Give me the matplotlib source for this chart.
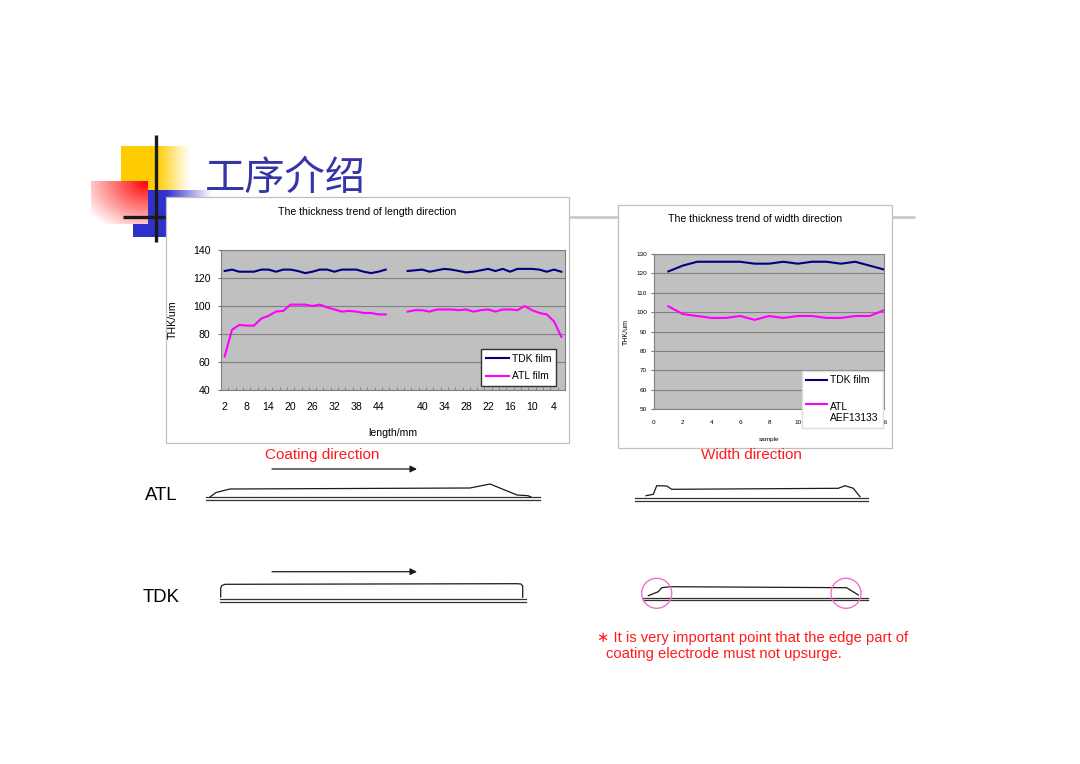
import numpy as np
import matplotlib
matplotlib.use('Agg')
import matplotlib.pyplot as plt
from matplotlib.patches import Rectangle, Circle
from matplotlib.legend_handler import HandlerLine2D

plt.rcParams['font.family'] = ['Liberation Sans', 'DejaVu Sans']

# thickness along the length direction (two blank categories split the runs)
len_labels = ['2', '4', '6', '8', '10', '12', '14', '16', '18', '20', '22', '24',
              '26', '28', '30', '32', '34', '36', '38', '40', '42', '44', '46',
              '', '',
              '44', '42', '40', '38', '36', '34', '32', '30', '28', '26', '24',
              '22', '20', '18', '16', '14', '12', '10', '8', '6', '4', '2']
tdk_len = [125, 126, 124.5, 124.5, 124.5, 126, 126, 124.5, 126, 126, 125, 123.5,
           124.5, 126, 126, 124.5, 126, 126, 126, 124.5, 123.5, 124.5, 126,
           None, None,
           125, 125.5, 126, 124.5, 125.5, 126.5, 126, 125, 124, 124.5, 125.5,
           126.5, 125, 126.5, 124.5, 126.5, 126.5, 126.5, 126, 124.5, 126, 124.5]
atl_len = [64, 83, 86.5, 86, 86, 91, 93, 96, 96.5, 101, 101, 101,
           100, 101, 99, 97.5, 96, 96.5, 96, 95, 95, 94, 94,
           None, None,
           96, 97, 97, 96, 97.5, 97.5, 97.5, 97, 97.5, 96, 97,
           97.5, 96, 97.5, 97.5, 97, 100, 97, 95, 94, 89, 78]

# thickness along the width direction
samples = [1, 2, 3, 4, 5, 6, 7, 8, 9, 10, 11, 12, 13, 14, 15, 16]
tdk_wid = [121, 124, 126, 126, 126, 126, 125, 125, 126, 125, 126, 126, 125, 126, 124, 122]
atl_wid = [103, 99, 98, 97, 97, 98, 96, 98, 97, 98, 98, 97, 97, 98, 98, 101]
wid_ticks = [0, 2, 4, 6, 8, 10, 12, 14, 16]
wid_ticklabels = ['0', '2', '4', '6', '8', '10', '', '', '16']  # 12, 14 sit under the legend

W, H = 1080, 764
fig = plt.figure(figsize=(W / 100, H / 100), dpi=100)
fig.patch.set_facecolor('white')

bg = fig.add_axes([0, 0, 1, 1])
bg.set_axis_off()
bg.set_zorder(0)


def px_axes(x0, y0, x1, y1):
    return fig.add_axes([x0 / W, 1 - y1 / H, (x1 - x0) / W, (y1 - y0) / H])


def grad(x0, y0, x1, y1, rgb, alpha_fn, z):
    n = 80
    u = np.linspace(0, 1, n)[None, :] * np.ones((n, 1))
    v = np.linspace(0, 1, n)[:, None] * np.ones((1, n))
    a = np.clip(alpha_fn(u, v), 0, 1)
    img = np.ones((n, n, 3))
    for k in range(3):
        img[..., k] = 1 - a * (1 - rgb[k])
    bg.imshow(img, extent=(x0, x1, y1, y0), origin='upper', aspect='auto',
              zorder=z, interpolation='bilinear')


class RaisedLine(HandlerLine2D):
    # legend line sits on the first line of a two-line label
    def create_artists(self, legend, orig_handle, xdescent, ydescent,
                       width, height, fontsize, trans):
        arts = super().create_artists(legend, orig_handle, xdescent, ydescent,
                                      width, height, fontsize, trans)
        for a in arts:
            a.set_ydata(np.asarray(a.get_ydata(), dtype=float) + 0.85 * fontsize)
        return arts


# slide decoration
grad(121, 146, 190, 190, (1.0, 0.8, 0.0),
     lambda u, v: np.where(u < 0.52, 1.0, 1 - (u - 0.52) / 0.48), 1)
grad(133, 190, 212, 237, (0.19, 0.19, 0.80),
     lambda u, v: np.where(u < 0.42, 1.0, 1 - (u - 0.42) / 0.58), 1.5)
grad(91, 181, 148, 224, (1.0, 0.0, 0.0),
     lambda u, v: 1 - np.sqrt(((1 - u) ** 2 + v ** 2) / 2) * 1.1, 2)
bg.plot([166, 915], [216.5, 216.5], color='#c4c4c4', lw=1.8, zorder=0.5,
        solid_capstyle='butt')
bg.plot([156, 156], [135, 242], color='#1a1a1a', lw=2.4, zorder=4,
        solid_capstyle='butt')
bg.plot([123, 166], [217, 217], color='#1a1a1a', lw=2.4, zorder=4,
        solid_capstyle='butt')
bg.text(205, 178, '工序介绍', fontsize=29, color='#3535A8',
        family=['Noto Sans CJK SC', 'DejaVu Sans'], va='center', ha='left', zorder=6)

# chart frames
bg.add_patch(Rectangle((166, 197), 403, 246, facecolor='white',
                       edgecolor='#c0c0c0', lw=0.9, zorder=5))
bg.add_patch(Rectangle((618, 205), 274, 243, facecolor='white',
                       edgecolor='#c0c0c0', lw=0.9, zorder=5))
bg.text(367, 212, 'The thickness trend of length direction', fontsize=7.6,
        ha='center', va='center', zorder=6)
bg.text(755, 219, 'The thickness trend of width direction', fontsize=7.6,
        ha='center', va='center', zorder=6)

# schematic profiles
line_kw = dict(color='#1a1a1a', lw=0.9, zorder=6)
base_kw = dict(color='#333333', lw=0.9, zorder=6)

bg.text(265, 455, 'Coating direction', fontsize=11, color='#ff1a1a',
        ha='left', va='center', zorder=6)
bg.text(701, 455, 'Width direction', fontsize=11, color='#ff1a1a',
        ha='left', va='center', zorder=6)
bg.text(145, 495, 'ATL', fontsize=13.3, ha='left', va='center', zorder=6)
bg.text(143, 598, 'TDK', fontsize=13.3, ha='left', va='center', zorder=6)

for yy in (469, 571.7):
    bg.annotate('', xy=(417, yy), xytext=(272, yy), zorder=6,
                arrowprops=dict(arrowstyle='-|>', color='#1a1a1a', lw=0.9,
                                mutation_scale=10, shrinkA=0, shrinkB=0))

# ATL length profile
bg.plot([206, 540], [497.3, 497.3], **base_kw)
bg.plot([206, 540], [499.8, 499.8], **base_kw)
bg.plot([210, 216, 230, 470, 490, 517, 528, 531],
        [497, 492.5, 489, 488, 484, 495, 495.7, 497], **line_kw)
# TDK length profile
bg.plot([220, 526], [599.3, 599.3], **base_kw)
bg.plot([220, 526], [601.8, 601.8], **base_kw)
bg.plot([220.7, 220.7, 222, 225, 516.7, 521, 522.7, 522.7],
        [597, 588, 585.5, 584.3, 583.7, 584, 586, 597.3], **line_kw)
# ATL width profile
bg.plot([635, 868], [498.3, 498.3], **base_kw)
bg.plot([635, 868], [500.8, 500.8], **base_kw)
bg.plot([646, 653.3, 656.7, 666.7, 671.7, 838.3, 845, 853.3, 860],
        [495.7, 494.3, 485.7, 486, 489.3, 488.3, 485.7, 488.3, 496.7], **line_kw)
# TDK width profile
bg.plot([643, 868], [597.7, 597.7], **base_kw)
bg.plot([643, 868], [600.2, 600.2], **base_kw)
bg.plot([648.3, 658.3, 661.7, 670, 846.7, 858.3],
        [595.7, 591.7, 587.7, 586.7, 587.7, 595], **line_kw)
for cx in (656.7, 846):
    bg.add_patch(Circle((cx, 593.3), 15, fill=False, edgecolor='#f070d0',
                        lw=1.0, zorder=7))

bg.text(597, 637.7, '∗ It is very important point that the edge part of',
        fontsize=10.6, color='#ff1a1a', ha='left', va='center', zorder=6)
bg.text(606, 654, 'coating electrode must not upsurge.',
        fontsize=10.6, color='#ff1a1a', ha='left', va='center', zorder=6)

bg.set_xlim(0, W)
bg.set_ylim(H, 0)

# length direction chart
ax1 = px_axes(221, 250, 565, 390)
x1 = np.arange(len(len_labels))
ax1.plot(x1, np.array(tdk_len, dtype=float), color='#000080', lw=1.5, label='TDK film')
ax1.plot(x1, np.array(atl_len, dtype=float), color='#FF00FF', lw=1.5, label='ATL film')
ax1.set_facecolor('#C0C0C0')
ax1.set_xlim(-0.5, len(len_labels) - 0.5)
ax1.set_ylim(40, 140)
ax1.set_yticks(range(40, 141, 20))
ax1.set_xticks(x1[::3])
ax1.set_xticklabels([len_labels[i] for i in x1[::3]])
ax1.set_xticks(np.arange(-0.5, len(len_labels), 1), minor=True)
ax1.tick_params(axis='x', which='major', length=0, pad=9, labelsize=7.6)
ax1.tick_params(axis='x', which='minor', length=2.2, direction='in', color='#777777')
ax1.tick_params(axis='y', length=2.5, pad=5, labelsize=7.6, color='#777777')
ax1.grid(axis='y', color='#808080', lw=0.8)
ax1.set_axisbelow(True)
for s in ax1.spines.values():
    s.set_color('#808080')
    s.set_linewidth(0.8)
ax1.set_ylabel('THK/um', fontsize=7.6)
ax1.yaxis.set_label_coords(-0.125, 0.5)
ax1.set_xlabel('length/mm', fontsize=7.6)
ax1.xaxis.set_label_coords(0.5, -0.27)
ax1.legend(loc='lower right', bbox_to_anchor=(0.975, 0.03), fontsize=7.4,
           frameon=True, fancybox=False, edgecolor='#333333', framealpha=1,
           handlelength=2.3, handletextpad=0.3, labelspacing=0.7,
           borderpad=0.45, borderaxespad=0)

# width direction chart
ax2 = px_axes(654, 254, 884, 409)
l_tdk, = ax2.plot(samples, tdk_wid, color='#000080', lw=1.5, label='TDK film')
l_atl, = ax2.plot(samples, atl_wid, color='#FF00FF', lw=1.5, label='ATL\nAEF13133')
ax2.set_facecolor('#C0C0C0')
ax2.set_xlim(0, 16)
ax2.set_ylim(50, 130)
ax2.set_yticks(range(50, 131, 10))
ax2.set_xticks(wid_ticks)
ax2.set_xticklabels(wid_ticklabels)
ax2.tick_params(axis='x', length=0, pad=8, labelsize=4.6)
ax2.tick_params(axis='y', length=2, pad=3, labelsize=4.6, color='#777777')
ax2.grid(axis='y', color='#808080', lw=0.8)
ax2.set_axisbelow(True)
for s in ax2.spines.values():
    s.set_color('#808080')
    s.set_linewidth(0.8)
ax2.set_ylabel('THK/um', fontsize=5)
ax2.yaxis.set_label_coords(-0.105, 0.5)
ax2.set_xlabel('sample', fontsize=4.6)
ax2.xaxis.set_label_coords(0.5, -0.18)
leg2 = ax2.legend(loc='lower right', bbox_to_anchor=(0.996, -0.123), fontsize=7.4,
                  frameon=True, fancybox=False, edgecolor='#dddddd', framealpha=1,
                  handlelength=2.0, handletextpad=0.3, labelspacing=1.6,
                  borderpad=0.45, borderaxespad=0,
                  handler_map={l_atl: RaisedLine()})
leg2.set_zorder(10)

fig.savefig('out.png', dpi=100, facecolor='white')
